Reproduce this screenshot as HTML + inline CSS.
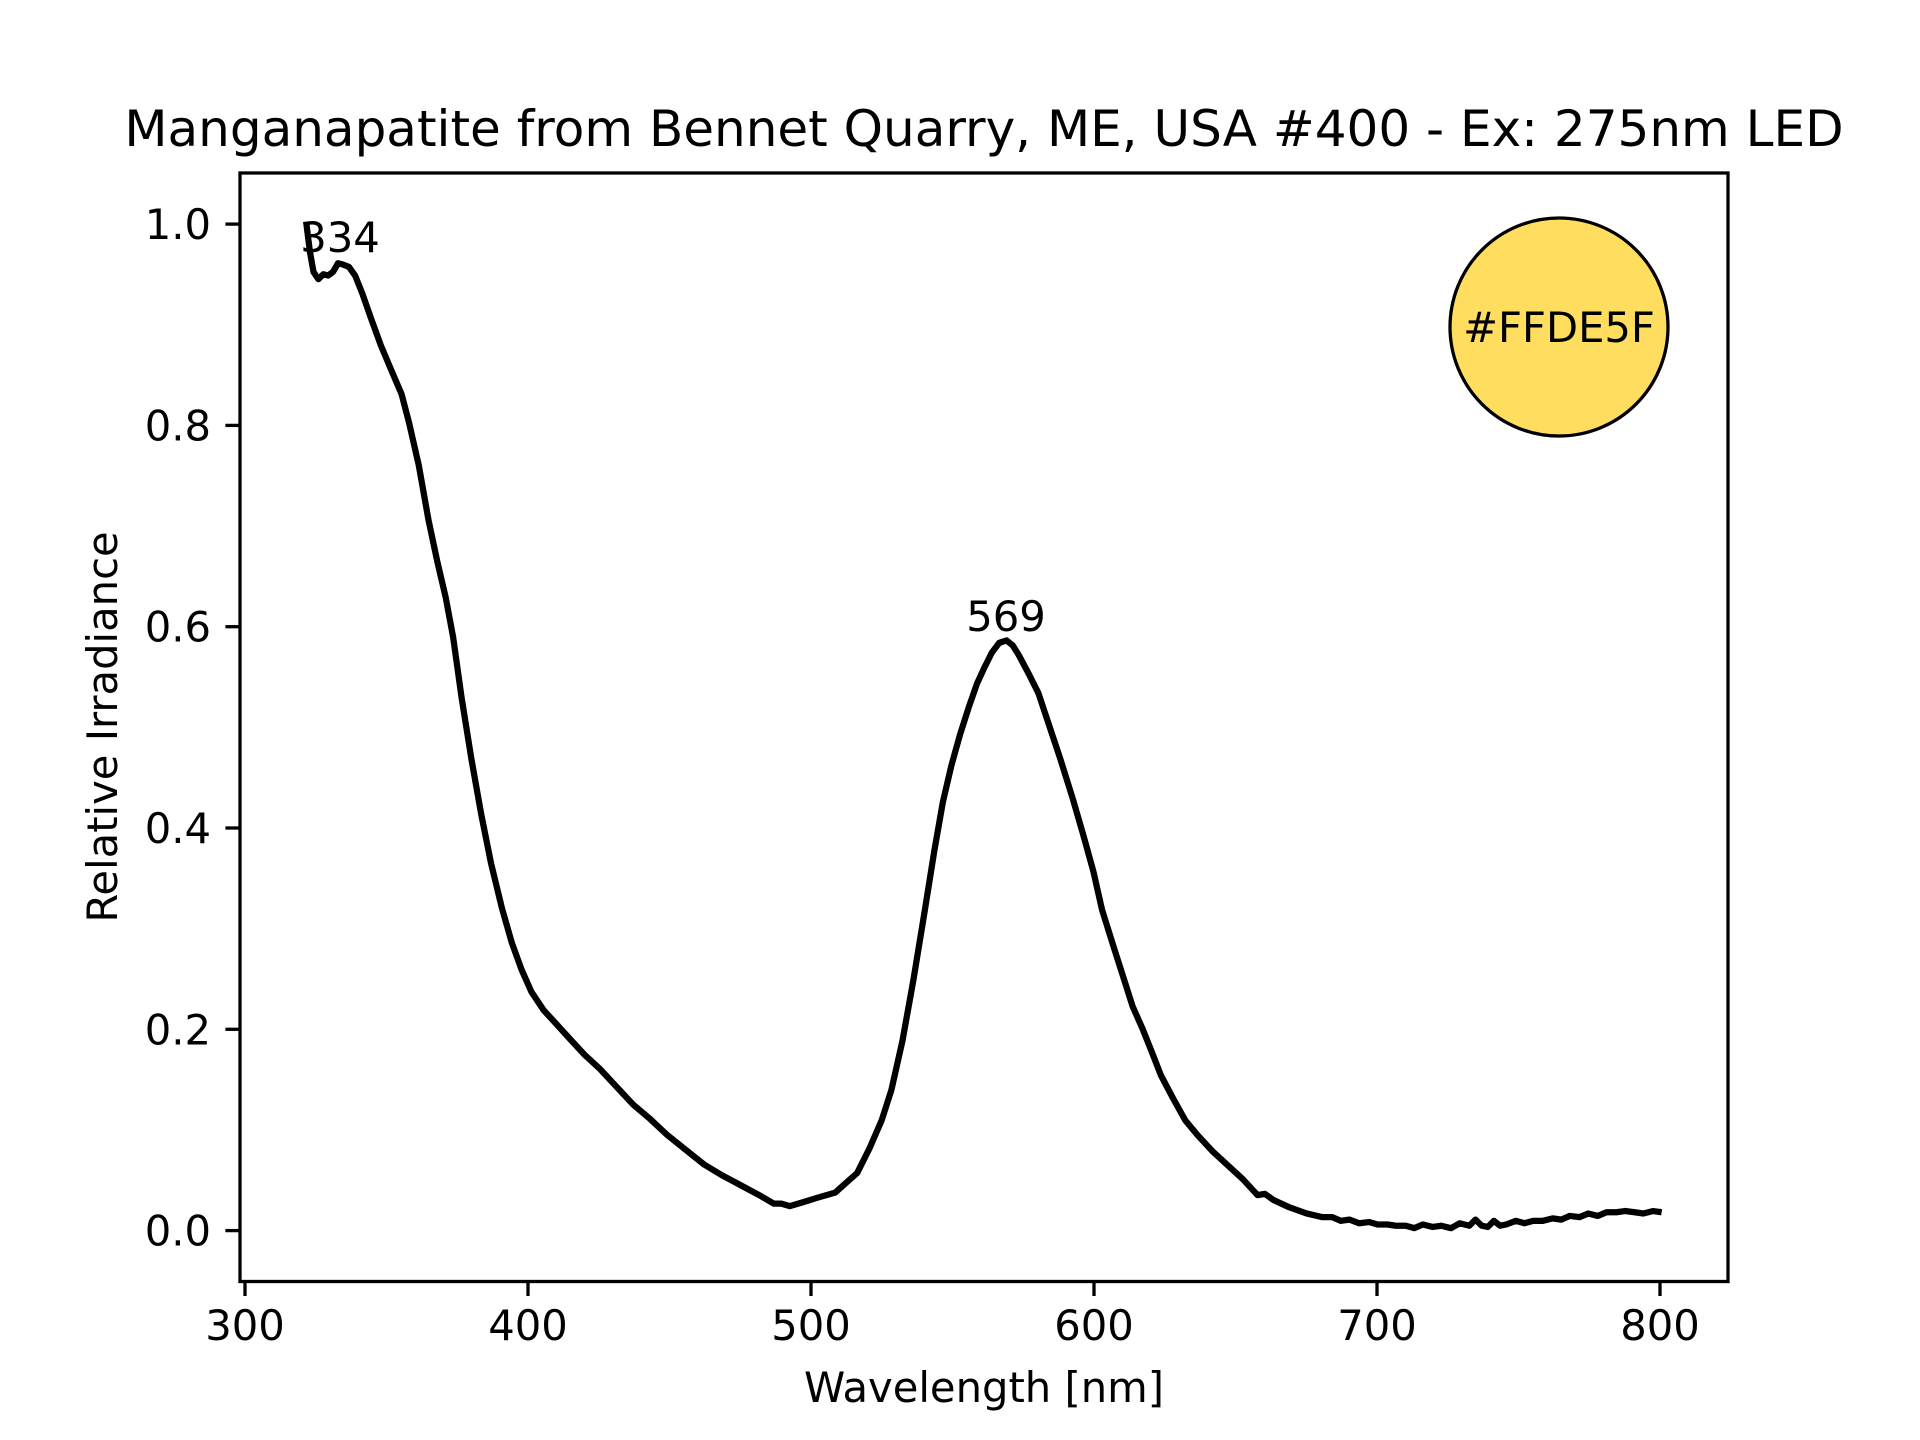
<!DOCTYPE html>
<html><head><meta charset="utf-8"><style>
html,body{margin:0;padding:0;background:#fff}
svg{display:block}
text{font-family:"DejaVu Sans","Liberation Sans",sans-serif;fill:#000}
</style></head><body>
<svg width="1920" height="1440" viewBox="0 0 1920 1440" xmlns="http://www.w3.org/2000/svg">
<rect width="1920" height="1440" fill="#fff"/>
<text x="984" y="146" font-size="50" text-anchor="middle">Manganapatite from Bennet Quarry, ME, USA #400 - Ex: 275nm LED</text>
<g transform="scale(1.2245)">
<polyline fill="none" stroke="#000" stroke-width="5.1" stroke-linejoin="round" points="250,181 253,205 256,222 260,228 264,224 268,225 272,222 276,215 280,216 285,218 290,225 296,240 303,260 311,282 319,301 328,322 334,345 342,380 350,425 357,458 364,488 370,520 377,570 385,620 393,665 401,705 410,742 418,770 426,792 434,810 444,825 455,837 465,848 477,861 490,873 503,887 517,902 530,913 545,927 560,939 575,951 590,960 605,968 620,976 632,983 638,983 645,985 655,982 668,978 682,974 692,965 700,958 710,938 720,915 728,890 737,850 746,800 755,745 763,695 770,655 777,625 784,600 791,578 798,558 804,545 810,533 816,525 822,523 827,527 832,535 840,550 848,566 856,590 866,620 876,652 885,683 893,712 900,743 910,775 918,800 925,822 933,840 941,860 948,878 958,897 968,915 978,927 990,940 1003,952 1015,963 1027,976 1033,975 1040,980 1053,986 1067,991 1080,994 1088,994 1095,997 1102,996 1110,999 1118,998 1125,1000 1133,1000 1140,1001 1148,1001 1155,1003 1162,1000 1170,1002 1177,1001 1185,1003 1192,999 1200,1001 1205,996 1210,1001 1215,1002 1220,997 1225,1001 1230,1000 1238,997 1245,999 1252,997 1260,997 1268,995 1275,996 1282,993 1290,994 1297,991 1305,993 1312,990 1320,990 1327,989 1335,990 1342,991 1350,989 1357,990"/>
</g>
<rect x="240" y="173" width="1488" height="1108.5" fill="none" stroke="#000" stroke-width="3.3"/>
<g stroke="#000" stroke-width="3.3">
<line x1="245" y1="1281.5" x2="245" y2="1296"/>
<line x1="528" y1="1281.5" x2="528" y2="1296"/>
<line x1="811" y1="1281.5" x2="811" y2="1296"/>
<line x1="1094" y1="1281.5" x2="1094" y2="1296"/>
<line x1="1377" y1="1281.5" x2="1377" y2="1296"/>
<line x1="1660" y1="1281.5" x2="1660" y2="1296"/>
<line x1="240" y1="1230.6" x2="225.4" y2="1230.6"/>
<line x1="240" y1="1029.3" x2="225.4" y2="1029.3"/>
<line x1="240" y1="828" x2="225.4" y2="828"/>
<line x1="240" y1="626.7" x2="225.4" y2="626.7"/>
<line x1="240" y1="425.4" x2="225.4" y2="425.4"/>
<line x1="240" y1="224.1" x2="225.4" y2="224.1"/>
</g>
<g font-size="41.7" text-anchor="middle">
<text x="245" y="1340">300</text>
<text x="528" y="1340">400</text>
<text x="811" y="1340">500</text>
<text x="1094" y="1340">600</text>
<text x="1377" y="1340">700</text>
<text x="1660" y="1340">800</text>
</g>
<g font-size="41.7" text-anchor="end">
<text x="211" y="1245.6">0.0</text>
<text x="211" y="1044.3">0.2</text>
<text x="211" y="843">0.4</text>
<text x="211" y="641.7">0.6</text>
<text x="211" y="440.4">0.8</text>
<text x="211" y="239.1">1.0</text>
</g>
<text x="984" y="1402" font-size="41.7" text-anchor="middle">Wavelength [nm]</text>
<text transform="translate(117,727) rotate(-90)" font-size="41.7" text-anchor="middle">Relative Irradiance</text>
<text x="340" y="252" font-size="41.7" text-anchor="middle">334</text>
<text x="1006" y="631" font-size="41.7" text-anchor="middle">569</text>
<circle cx="1559" cy="327" r="109" fill="#FFDE5F" stroke="#000" stroke-width="3.3"/>
<text x="1559" y="342" font-size="41.7" text-anchor="middle">#FFDE5F</text>
</svg>
</body></html>
